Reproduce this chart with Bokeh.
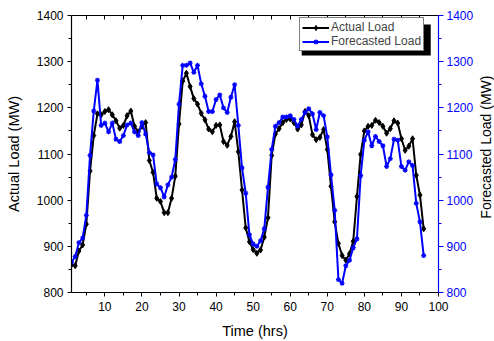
import math
from bokeh.plotting import figure
from bokeh.layouts import row
from bokeh.models import (LinearAxis, Range1d, FixedTicker, Legend, LegendItem,
                          BoxAnnotation, Label)
from bokeh.embed import file_html
from bokeh.resources import INLINE

hours = list(range(1, 97))
actual = [860, 858, 890, 903, 948, 1063, 1140, 1187, 1185, 1192,
          1196, 1185, 1172, 1156, 1162, 1183, 1193, 1160, 1148, 1160,
          1168, 1086, 1060, 1004, 997, 973, 973, 1004, 1052, 1165,
          1258, 1275, 1246, 1220, 1208, 1188, 1174, 1154, 1148, 1162,
          1163, 1127, 1119, 1138, 1170, 1105, 1022, 940, 910, 893,
          885, 892, 920, 962, 1097, 1143, 1155, 1168, 1175, 1176,
          1168, 1154, 1163, 1192, 1183, 1142, 1131, 1136, 1153, 1110,
          1030, 953, 906, 880, 870, 884, 911, 1008, 1099, 1150,
          1160, 1162, 1173, 1168, 1160, 1145, 1155, 1172, 1167, 1133,
          1108, 1117, 1133, 1054, 1011, 938]
forecast = [865, 878, 908, 918, 967, 1097, 1193, 1260, 1162, 1167,
            1148, 1167, 1132, 1127, 1140, 1163, 1167, 1148, 1140, 1168,
            1143, 1103, 1098, 1035, 1027, 1007, 1033, 1050, 1088, 1208,
            1292, 1292, 1297, 1277, 1292, 1252, 1225, 1192, 1192, 1218,
            1228, 1200, 1190, 1223, 1250, 1162, 1070, 1015, 925, 905,
            900, 912, 938, 1028, 1110, 1160, 1168, 1180, 1180, 1183,
            1175, 1160, 1175, 1190, 1198, 1187, 1153, 1190, 1183, 1137,
            1055, 978, 828, 820, 858, 870, 897, 916, 1053, 1130,
            1148, 1118, 1138, 1127, 1118, 1073, 1090, 1132, 1130, 1073,
            1065, 1083, 1075, 993, 953, 880]

x_ticks = [10, 20, 30, 40, 50, 60, 70, 80, 90, 100]
x_minor = [5, 15, 25, 35, 45, 55, 65, 75, 85, 95]
y_ticks = [800, 900, 1000, 1100, 1200, 1300, 1400]
y_minor = [850, 950, 1050, 1150, 1250, 1350]

FONT = "Liberation Sans"
BLUE = "#0000ff"
MAIN_W = 476
SIDE_W = 18


def style(ax, color="black"):
    ax.axis_line_color = color
    ax.axis_line_width = 1.2
    ax.major_tick_line_color = color
    ax.minor_tick_line_color = color
    ax.major_label_text_color = color
    ax.major_label_text_font = FONT
    ax.major_label_text_font_size = "12px"
    ax.axis_label_text_font = FONT
    ax.axis_label_text_font_size = "14.5px"
    ax.axis_label_text_font_style = "normal"
    ax.axis_label_text_color = "black"
    ax.major_tick_in = 0
    ax.major_tick_out = 4
    ax.minor_tick_in = 0
    ax.minor_tick_out = 3


p = figure(width=MAIN_W, height=341, output_backend="svg", toolbar_location=None,
           x_range=Range1d(1, 100), y_range=Range1d(800, 1400),
           min_border_left=71, min_border_right=MAIN_W - 440, min_border_top=15,
           min_border_bottom=49, x_axis_location=None, y_axis_location=None)
p.extra_y_ranges = {"right": Range1d(800, 1400)}
p.xgrid.visible = False
p.ygrid.visible = False
p.outline_line_color = None
p.background_fill_color = "white"
p.border_fill_color = "white"

xb = LinearAxis(axis_label="Time (hrs)",
                ticker=FixedTicker(ticks=x_ticks, minor_ticks=x_minor))
style(xb)
xb.major_label_standoff = 5
xb.axis_label_standoff = 9
p.add_layout(xb, "below")

# top frame edge with inward ticks only (no labels)
xt = LinearAxis(ticker=FixedTicker(ticks=[], minor_ticks=x_minor + x_ticks))
style(xt)
xt.minor_tick_in = 4
xt.minor_tick_out = 0
xt.major_label_standoff = 0
p.add_layout(xt, "above")

yl = LinearAxis(axis_label="Actual Load (MW)",
                ticker=FixedTicker(ticks=y_ticks, minor_ticks=y_minor))
style(yl)
yl.major_label_standoff = 4
yl.axis_label_standoff = 12
p.add_layout(yl, "left")

yr = LinearAxis(y_range_name="right",
                ticker=FixedTicker(ticks=y_ticks, minor_ticks=y_minor))
style(yr, BLUE)
yr.major_tick_out = 5
yr.major_label_standoff = 3
p.add_layout(yr, "right")

la = p.line(hours, actual, line_color="black", line_width=2)
sa = p.scatter(hours, actual, marker="diamond", size=6, fill_color="black",
               line_color="black")
lf = p.line(hours, forecast, line_color=BLUE, line_width=2, y_range_name="right")
sf = p.scatter(hours, forecast, marker="asterisk", size=5, line_color=BLUE,
               line_width=1.2, y_range_name="right")

# legend drop shadow
p.add_layout(BoxAnnotation(left=63.1, right=97.9, top=1380.5, bottom=1313.4,
                           fill_color="black", fill_alpha=1.0, line_color=None,
                           level="annotation"))

legend = Legend(items=[LegendItem(label="Actual Load", renderers=[la, sa]),
                       LegendItem(label="Forecasted Load", renderers=[lf, sf])],
                location=(228, 241), border_line_color="black",
                background_fill_color="white", padding=2, spacing=0,
                glyph_width=27, glyph_height=13, label_height=13,
                label_standoff=2, label_text_font=FONT,
                label_text_font_size="12px", border_line_width=1.2,
                background_fill_alpha=1.0)
p.add_layout(legend)

# right-hand axis title (reads bottom-to-top), in a narrow strip beside the plot
side = figure(width=SIDE_W, height=341, output_backend="svg",
              toolbar_location=None, x_range=Range1d(0, 1),
              y_range=Range1d(0, 341), min_border=0,
              x_axis_location=None, y_axis_location=None)
side.xgrid.visible = False
side.ygrid.visible = False
side.outline_line_color = None
side.background_fill_color = "white"
side.border_fill_color = "white"
side.add_layout(Label(x=0.5, y=341 - 162, text="Forecasted Load (MW)",
                      angle=math.pi / 2, text_align="center",
                      text_baseline="middle", text_font=FONT,
                      text_font_size="14px", text_color="black"))

root = row(p, side, spacing=0)
open("out.html", "w").write(file_html(root, INLINE))
